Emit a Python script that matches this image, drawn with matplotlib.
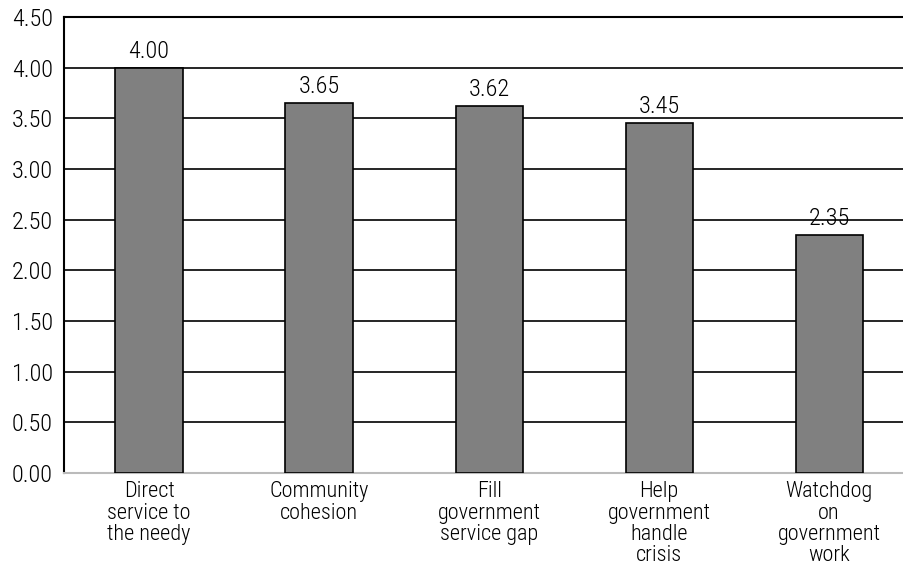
import matplotlib.pyplot as plt
from matplotlib import font_manager

categories = ["Direct\nservice to\nthe needy", "Community\ncohesion",
              "Fill\ngovernment\nservice gap", "Help\ngovernment\nhandle\ncrisis",
              "Watchdog\non\ngovernment\nwork"]
values = [4.00, 3.65, 3.62, 3.45, 2.35]
yticks = [0.0, 0.5, 1.0, 1.5, 2.0, 2.5, 3.0, 3.5, 4.0, 4.5]

# condensed face if one is installed
names = {f.name for f in font_manager.fontManager.ttflist}
family = "DejaVu Sans"
for cand in ["Liberation Sans Narrow", "Roboto Condensed", "DejaVu Sans Condensed"]:
    if cand in names:
        family = cand
        break
plt.rcParams['font.family'] = [family, 'DejaVu Sans']
plt.rcParams['font.stretch'] = 'condensed'
plt.rcParams['font.weight'] = 'light'

num_fs = 17.5
cat_fs = 16

fig = plt.figure(figsize=(9.04, 5.85), dpi=100)
ax = fig.add_axes([0.0708, 0.1915, 0.9292, 0.7795])

x = range(len(values))
ax.bar(x, values, width=0.395, color='#808080', edgecolor='black', linewidth=1.2, zorder=3)
for xi, v in zip(x, values):
    ax.text(xi, v + 0.05, f"{v:.2f}", ha='center', va='bottom', fontsize=num_fs, zorder=4)

ax.set_xlim(-0.5, 4.44)
ax.set_ylim(0, 4.5)
ax.set_yticks(yticks)
ax.set_yticklabels([f"{t:.2f}" for t in yticks], fontsize=num_fs)
ax.set_xticks(list(x))
ax.set_xticklabels(categories, fontsize=cat_fs, linespacing=1.02)
ax.tick_params(axis='y', length=0, pad=8)
ax.tick_params(axis='x', length=0, pad=6)

ax.yaxis.grid(True, color='black', linewidth=1.2, zorder=0)
ax.set_axisbelow(True)
ax.spines['right'].set_visible(False)
ax.spines['top'].set_color('black')
ax.spines['top'].set_linewidth(1.5)
ax.spines['left'].set_linewidth(1.5)
ax.spines['bottom'].set_color('#bbbbbb')
ax.spines['bottom'].set_linewidth(1.5)

fig.savefig("out.png", dpi=100)
